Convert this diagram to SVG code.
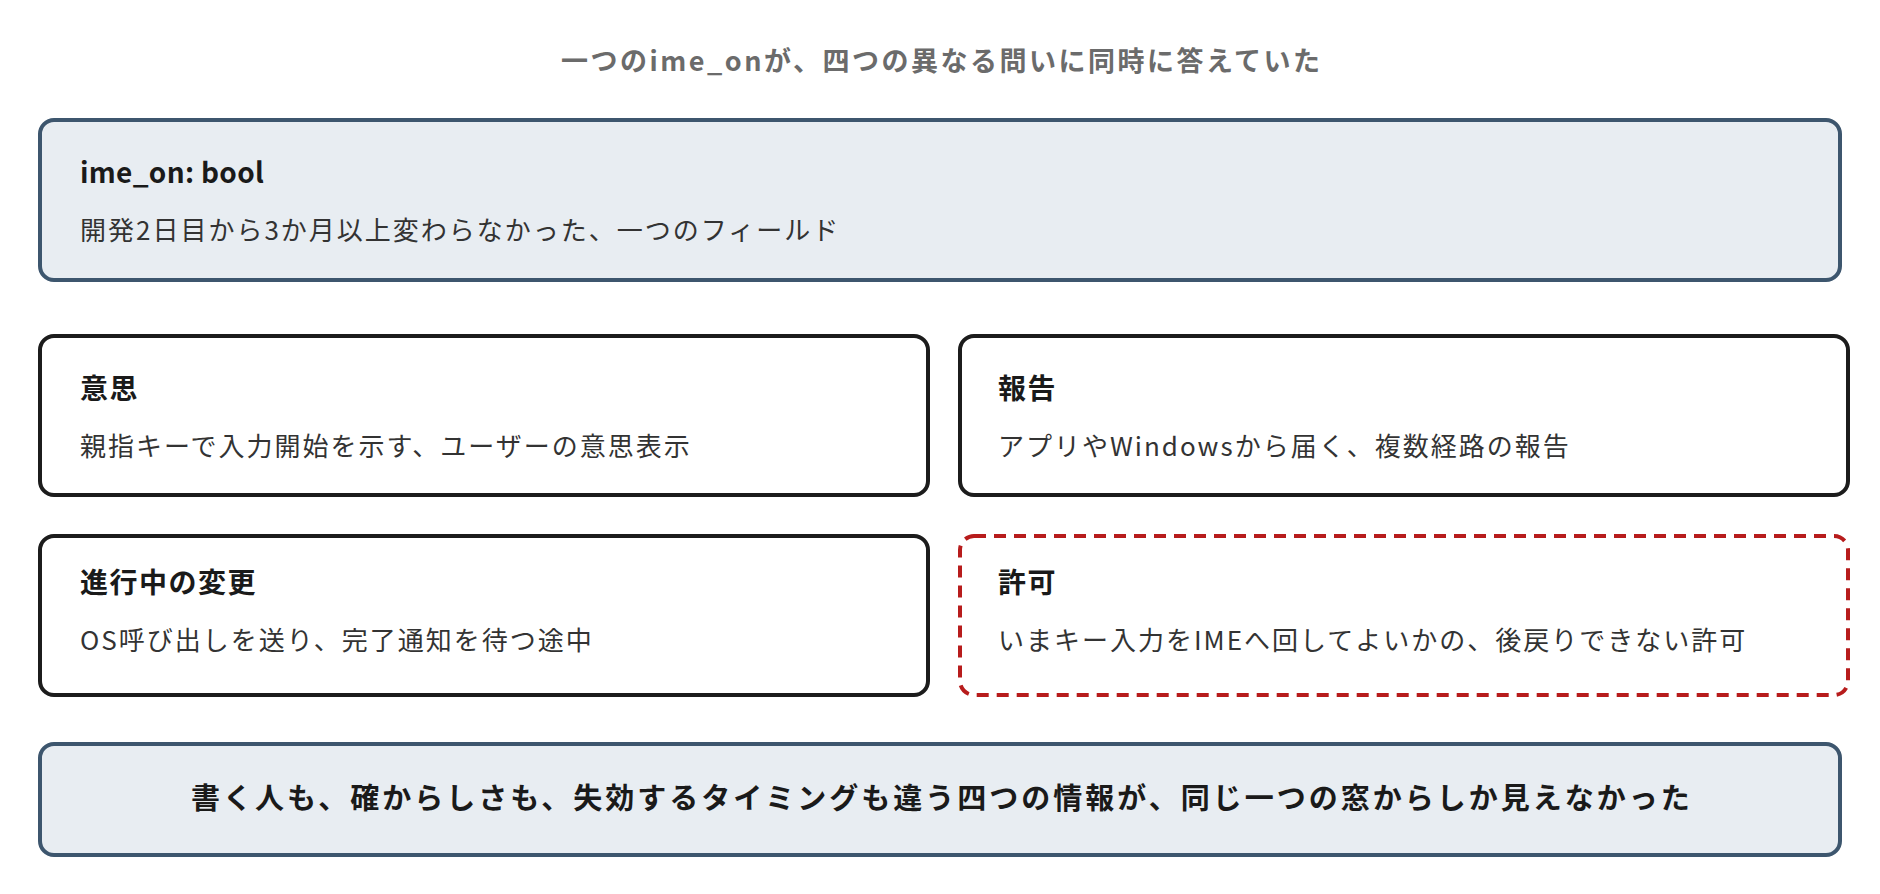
<svg xmlns="http://www.w3.org/2000/svg" width="1880" height="894" viewBox="0 0 1880 894">
<style>
text{font-family:"Noto Sans CJK JP","Noto Sans",sans-serif;}
.ttl{font-size:27px;font-weight:700;fill:#6b6b6b;letter-spacing:2.5px;}
.hd{font-size:28px;font-weight:700;fill:#1a1a1a;letter-spacing:1.5px;}
.code{letter-spacing:0.3px;}
.sub{font-size:26px;font-weight:400;fill:#333333;letter-spacing:2px;}
.big{font-size:29px;font-weight:700;fill:#1a1a1a;letter-spacing:3px;}
.band{fill:#e8edf2;stroke:#3d566e;stroke-width:4;}
.card{fill:#ffffff;stroke:#1c1c1c;stroke-width:4;}
.warn{fill:#ffffff;stroke:#b71c1c;stroke-width:4;stroke-dasharray:12 8;}
</style>
<rect width="1880" height="894" fill="#ffffff"/>
<g id="title"><text class="ttl" x="561" y="71">一つのime_onが、四つの異なる問いに同時に答えていた</text></g>
<g id="field">
<rect class="band" x="40" y="120" width="1800" height="160" rx="14"/>
<text class="hd code" x="80" y="183">ime_on: bool</text>
<text class="sub" x="80" y="240">開発2日目から3か月以上変わらなかった、一つのフィールド</text>
</g>
<g id="intent">
<rect class="card" x="40" y="336" width="888" height="159" rx="14"/>
<text class="hd" x="80" y="399">意思</text>
<text class="sub" x="80" y="456">親指キーで入力開始を示す、ユーザーの意思表示</text>
</g>
<g id="report">
<rect class="card" x="960" y="336" width="888" height="159" rx="14"/>
<text class="hd" x="998" y="399">報告</text>
<text class="sub" x="998" y="456">アプリやWindowsから届く、複数経路の報告</text>
</g>
<g id="pending">
<rect class="card" x="40" y="536" width="888" height="159" rx="14"/>
<text class="hd" x="80" y="593">進行中の変更</text>
<text class="sub" x="80" y="650">OS呼び出しを送り、完了通知を待つ途中</text>
</g>
<g id="permit">
<rect class="warn" x="960" y="536" width="888" height="159" rx="14"/>
<text class="hd" x="998" y="593">許可</text>
<text class="sub" x="998" y="650">いまキー入力をIMEへ回してよいかの、後戻りできない許可</text>
</g>
<g id="summary">
<rect class="band" x="40" y="744" width="1800" height="111" rx="14"/>
<text class="big" x="191" y="809">書く人も、確からしさも、失効するタイミングも違う四つの情報が、同じ一つの窓からしか見えなかった</text>
</g>
<g id="connectors"></g>
</svg>
